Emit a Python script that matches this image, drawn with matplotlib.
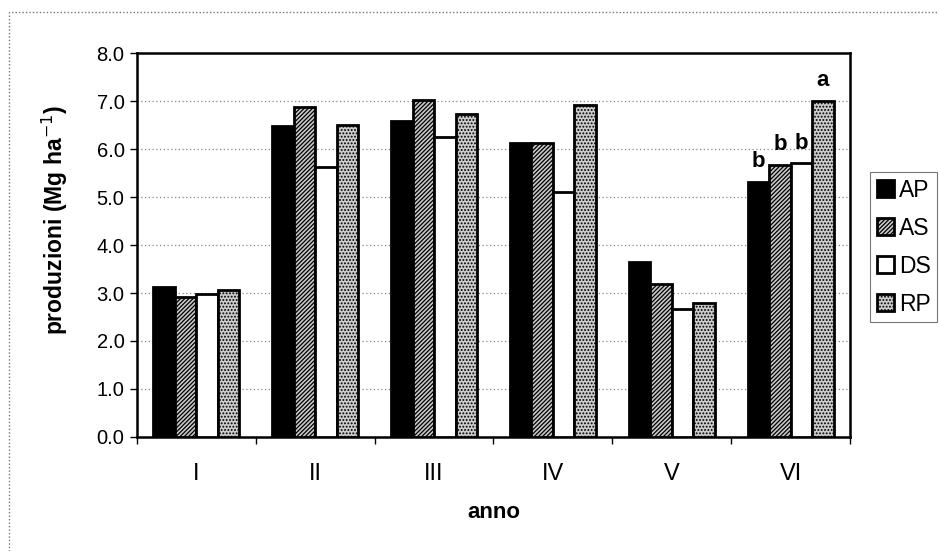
import matplotlib
matplotlib.use("Agg")
import matplotlib.pyplot as plt
from matplotlib.patches import Rectangle
import numpy as np

plt.rcParams['font.family'] = ['Liberation Sans', 'DejaVu Sans']
plt.rcParams['hatch.linewidth'] = 0.9

years = ['I', 'II', 'III', 'IV', 'V', 'VI']
series = ['AP', 'AS', 'DS', 'RP']
AP = [3.12, 6.48, 6.59, 6.13, 3.65, 5.32]
AS = [2.92, 6.87, 7.02, 6.13, 3.18, 5.67]
DS = [2.97, 5.63, 6.26, 5.11, 2.66, 5.70]
RP = [3.06, 6.49, 6.72, 6.92, 2.79, 7.00]
letters_VI = ['b', 'b', 'b', 'a']
yticks = [0, 1, 2, 3, 4, 5, 6, 7, 8]

values = [AP, AS, DS, RP]
styles = [
    dict(facecolor='black', hatch=None),
    dict(facecolor='#c8c8c8', hatch='////////'),
    dict(facecolor='white', hatch=None),
    dict(facecolor='#cccccc', hatch='.....'),
]

fig = plt.figure(figsize=(9.39, 5.51), dpi=100)
ax = fig.add_axes([137/939, 1-437/551, (850-137)/939, (437-53)/551])

n = len(series)
w = 1 / (n + 1.53)
x = np.arange(len(years))
bars_all = []
for i, (s, v, st) in enumerate(zip(series, values, styles)):
    offs = (i - (n - 1) / 2) * w
    bars = ax.bar(x + offs, v, width=w, facecolor=st['facecolor'], hatch=st['hatch'],
                  edgecolor='black', linewidth=2.0, label=s, zorder=3)
    bars_all.append(bars)

# significance letters for year VI
for i, lab in enumerate(letters_VI):
    b = bars_all[i][5]
    ax.annotate(lab, (b.get_x() + b.get_width() / 2, b.get_height()),
                xytext=(0, 7), textcoords='offset points', ha='center', va='bottom',
                fontsize=16, fontweight='bold', zorder=5)

ax.set_ylim(0, 8)
ax.set_xlim(-0.5, len(years) - 0.5)
ax.set_yticks(yticks)
ax.set_yticklabels([f'{t:.1f}' for t in yticks], fontsize=14.5)
ax.set_xticks(x)
ax.set_xticklabels(years, fontsize=17)
ax.tick_params(axis='x', length=0, pad=19)
ax.set_xticks(np.arange(-0.5, len(years)), minor=True)
ax.tick_params(axis='x', which='minor', length=5, width=1, direction='out')
ax.tick_params(axis='y', length=5, width=1, direction='out', pad=4)
ax.yaxis.grid(True, color='#888888', linestyle=(0, (1, 2)), linewidth=0.9, zorder=0)
ax.set_axisbelow(True)
for sp in ax.spines.values():
    sp.set_linewidth(1.8)
    sp.set_color('black')

ax.set_xlabel('anno', fontsize=16, fontweight='bold', labelpad=12)
ax.set_ylabel(r'produzioni (Mg ha$^{-1}$)', fontsize=16.5, fontweight='bold')
ax.yaxis.set_label_coords(-0.094, 0.565)

leg = fig.legend(handles=[b[0] for b in bars_all], labels=series,
                 loc='upper left', bbox_to_anchor=(870/939, 1-172/551),
                 fontsize=16.5, frameon=True, fancybox=False, edgecolor='#555555',
                 handlelength=0.75, handleheight=0.75, handletextpad=0.2,
                 labelspacing=0.65, borderpad=0.3, borderaxespad=0)
leg.get_frame().set_linewidth(0.8)

# outer chart border
fig.patches.append(Rectangle((9/939, -0.05), 1.2, 1 - 12/551 + 0.05, transform=fig.transFigure,
                             fill=False, edgecolor='#777777', linewidth=1.0,
                             linestyle=(0, (1, 1.5)), zorder=0))

fig.savefig('out.png', dpi=100)
